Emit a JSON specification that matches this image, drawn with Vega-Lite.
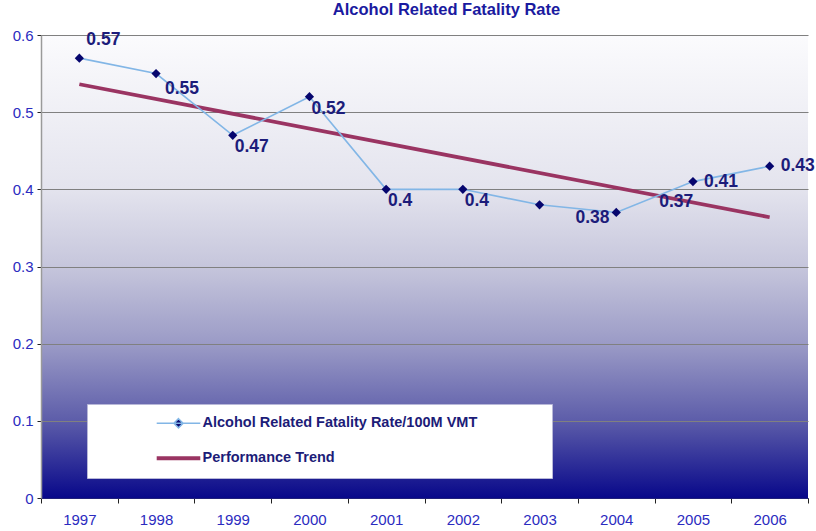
{
  "$schema": "https://vega.github.io/schema/vega-lite/v6.json",
  "width": 767,
  "height": 463,
  "autosize": {"type": "none"},
  "padding": {"left": 41, "top": 35, "right": 8, "bottom": 33},
  "background": "#ffffff",
  "title": {
    "text": "Alcohol Related Fatality Rate",
    "font": "Liberation Sans",
    "fontSize": 16.5,
    "fontWeight": "bold",
    "color": "#1a1aa0",
    "anchor": "middle",
    "dx": 22,
    "offset": 10
  },
  "config": {
    "view": {
      "stroke": null,
      "fill": {
        "gradient": "linear",
        "x1": 0, "y1": 0, "x2": 0, "y2": 1,
        "stops": [
          {"offset": 0, "color": "#fbfbfd"},
          {"offset": 0.33, "color": "#e4e4ee"},
          {"offset": 0.5, "color": "#c6c6dc"},
          {"offset": 0.67, "color": "#9a9ac6"},
          {"offset": 0.83, "color": "#5e5eaa"},
          {"offset": 1, "color": "#08088a"}
        ]
      }
    },
    "font": "Liberation Sans"
  },
  "data": {
    "values": [
      {"year": 1997, "rate": 0.57, "label": "0.57"},
      {"year": 1998, "rate": 0.55, "label": "0.55"},
      {"year": 1999, "rate": 0.47, "label": "0.47"},
      {"year": 2000, "rate": 0.52, "label": "0.52"},
      {"year": 2001, "rate": 0.40, "label": "0.4"},
      {"year": 2002, "rate": 0.40, "label": "0.4"},
      {"year": 2003, "rate": 0.38, "label": "0.38"},
      {"year": 2004, "rate": 0.37, "label": "0.37"},
      {"year": 2005, "rate": 0.41, "label": "0.41"},
      {"year": 2006, "rate": 0.43, "label": "0.43"}
    ]
  },
  "encoding": {
    "x": {
      "field": "year",
      "type": "ordinal",
      "scale": {"paddingInner": 0, "paddingOuter": 0, "domain": [1997, 1998, 1999, 2000, 2001, 2002, 2003, 2004, 2005, 2006]},
      "axis": {
        "title": null,
        "labelAngle": 0,
        "tickBand": "extent",
        "labelColor": "#2b2bc0",
        "labelFontSize": 15,
        "labelPadding": 9,
        "tickColor": "#222222",
        "tickSize": 5,
        "domainColor": "#20207a",
        "domainWidth": 1
      }
    },
    "y": {
      "field": "rate",
      "type": "quantitative",
      "scale": {"domain": [0, 0.6], "nice": false, "zero": true},
      "axis": {
        "title": null,
        "values": [0, 0.1, 0.2, 0.3, 0.4, 0.5, 0.6],
        "format": "~g",
        "labelColor": "#2b2bc0",
        "labelFontSize": 15,
        "labelPadding": 4,
        "tickColor": "#222222",
        "tickSize": 4,
        "domainColor": "#9a9a9a",
        "domainWidth": 1.5,
        "gridColor": "#808080",
        "gridWidth": 1.2
      }
    }
  },
  "layer": [
    {
      "transform": [{"regression": "rate", "on": "year"}],
      "mark": {"type": "line", "strokeWidth": 3.8, "strokeCap": "butt"},
      "encoding": {
        "color": {"datum": "Performance Trend"}
      }
    },
    {
      "mark": {"type": "line", "strokeWidth": 1.6},
      "encoding": {
        "color": {
          "datum": "Alcohol Related Fatality Rate/100M VMT",
          "scale": {
            "domain": ["Alcohol Related Fatality Rate/100M VMT", "Performance Trend"],
            "range": ["#82b6e6", "#9a3462"]
          },
          "legend": {
            "title": " ",
            "titleOrient": "right",
            "titlePadding": 63,
            "orient": "none",
            "legendX": 46,
            "legendY": 369,
            "direction": "vertical",
            "fillColor": "#ffffff",
            "strokeColor": "#b8b8d8",
            "padding": 12,
            "symbolOffset": 73,
            "rowPadding": 19,
            "symbolType": "stroke",
            "symbolSize": 1900,
            "symbolStrokeWidth": 3.5,
            "labelFont": "Liberation Sans",
            "labelFontSize": 14.5,
            "labelFontWeight": "bold",
            "labelColor": "#1c1c78",
            "labelOffset": 16,
            "labelLimit": 400,
            "encode": {
              "symbols": {
                "update": {
                  "shape": {"signal": "datum.label === 'Performance Trend' ? 'M-1,0L1,0' : 'M-1,0L1,0M0,-0.21L0.21,0L0,0.21L-0.21,0Z'"},
                  "x": {"value": 79.5},
                  "strokeWidth": {"signal": "datum.label === 'Performance Trend' ? 3.8 : 1.5"},
                  "fill": {"signal": "datum.label === 'Performance Trend' ? 'transparent' : '#0a0a70'"},
                  "fillOpacity": {"value": 1}
                }
              }
            }
          }
        }
      }
    },
    {
      "mark": {"type": "point", "shape": "diamond", "filled": true, "size": 85, "color": "#06066e", "opacity": 1}
    },
    {
      "transform": [{"filter": "datum.year == 1997"}],
      "mark": {"type": "text", "fontWeight": "bold", "fontSize": 17.5, "color": "#1c1c7a", "dx": 24, "dy": -18},
      "encoding": {"text": {"field": "label"}}
    },
    {
      "transform": [{"filter": "datum.year == 1998"}],
      "mark": {"type": "text", "fontWeight": "bold", "fontSize": 17.5, "color": "#1c1c7a", "dx": 26, "dy": 15},
      "encoding": {"text": {"field": "label"}}
    },
    {
      "transform": [{"filter": "datum.year == 1999 || datum.year == 2000"}],
      "mark": {"type": "text", "fontWeight": "bold", "fontSize": 17.5, "color": "#1c1c7a", "dx": 19, "dy": 12},
      "encoding": {"text": {"field": "label"}}
    },
    {
      "transform": [{"filter": "datum.year == 2001 || datum.year == 2002"}],
      "mark": {"type": "text", "fontWeight": "bold", "fontSize": 17.5, "color": "#1c1c7a", "dx": 14, "dy": 12},
      "encoding": {"text": {"field": "label"}}
    },
    {
      "transform": [{"filter": "datum.year == 2003"}],
      "mark": {"type": "text", "fontWeight": "bold", "fontSize": 17.5, "color": "#1c1c7a", "dx": 53, "dy": 13},
      "encoding": {"text": {"field": "label"}}
    },
    {
      "transform": [{"filter": "datum.year == 2004"}],
      "mark": {"type": "text", "fontWeight": "bold", "fontSize": 17.5, "color": "#1c1c7a", "dx": 60, "dy": -10},
      "encoding": {"text": {"field": "label"}}
    },
    {
      "transform": [{"filter": "datum.year >= 2005"}],
      "mark": {"type": "text", "fontWeight": "bold", "fontSize": 17.5, "color": "#1c1c7a", "align": "left", "dx": 11, "dy": 0},
      "encoding": {"text": {"field": "label"}}
    }
  ]
}
